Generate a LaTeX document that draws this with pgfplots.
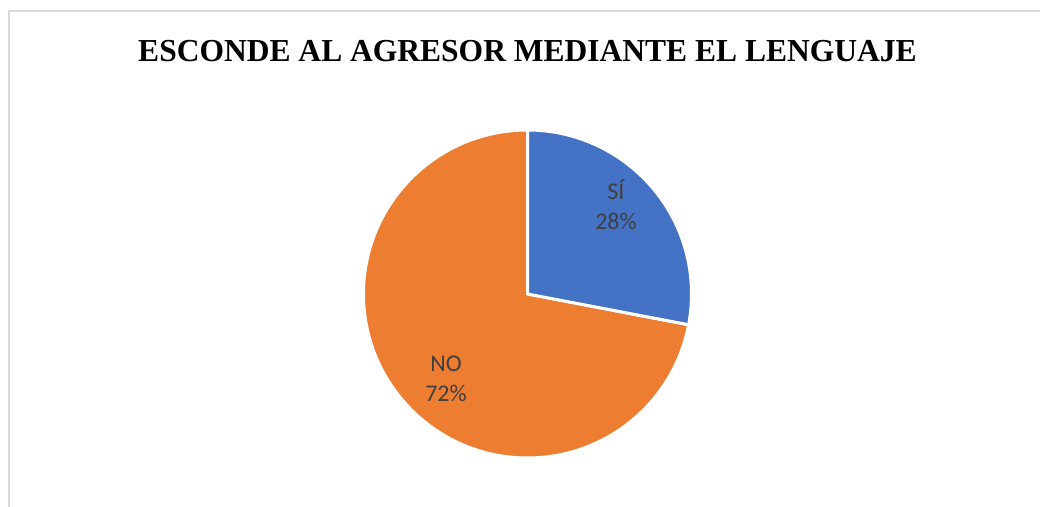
\documentclass[border=0pt]{standalone}
\usepackage{pgfplots}
\pgfplotsset{compat=1.18}
\usepackage{pgfplotstable}
\usepackage{fontspec}
\setmainfont{Liberation Serif}
\newfontfamily\carlito{Carlito}
\definecolor{sib}{HTML}{4472C4}
\definecolor{nob}{HTML}{ED7D31}
\definecolor{lab}{HTML}{404040}
\definecolor{framec}{HTML}{D9D9D9}
\pgfplotstableread{
label value
SI 28
NO 72
}\piedata
\begin{document}%
\begin{tikzpicture}
\pgfplotstablegetelem{0}{value}\of\piedata \let\vsi\pgfplotsretval
\pgfplotstablegetelem{1}{value}\of\piedata \let\vno\pgfplotsretval
\pgfmathsetmacro\angsi{90-3.6*\vsi}
\pgfmathsetmacro\angno{90+3.6*\vno}
\begin{axis}[hide axis, x=0.5pt, y=0.5pt, xmin=0, xmax=1040, ymin=0, ymax=507, clip=false]
% orange wedge (NO)
\addplot[fill=nob, draw=white, line width=1.5pt, line join=round] coordinates {(527.5,213) (527.5,377)}
  arc[start angle=90, end angle=\angno, radius=82pt] -- cycle;
% blue wedge (SI)
\addplot[fill=sib, draw=white, line width=1.5pt, line join=round] coordinates {(527.5,213) (527.5,377)}
  arc[start angle=90, end angle=\angsi, radius=82pt] -- cycle;
\draw[framec, line width=0.75pt] (axis cs:9,0) -- (axis cs:9,496) -- (axis cs:1040,496);
\node[anchor=base, font=\bfseries\fontsize{16}{20}\selectfont] at (axis cs:527.5,445) {\scalebox{0.985}[1]{ESCONDE AL AGRESOR MEDIANTE EL LENGUAJE}};
\node[anchor=base, font=\carlito\fontsize{12}{14}\selectfont, text=lab] at (axis cs:616,307) {SÍ};
\node[anchor=base, font=\carlito\fontsize{12}{14}\selectfont, text=lab] at (axis cs:616,277) {28\%};
\node[anchor=base, font=\carlito\fontsize{12}{14}\selectfont, text=lab] at (axis cs:446,135) {NO};
\node[anchor=base, font=\carlito\fontsize{12}{14}\selectfont, text=lab] at (axis cs:446,105) {72\%};
\coordinate (bbl) at (rel axis cs:0,0);
\coordinate (btr) at (rel axis cs:1,1);
\end{axis}
\pgfresetboundingbox
\path (bbl) rectangle (btr);
\end{tikzpicture}%
\end{document}
